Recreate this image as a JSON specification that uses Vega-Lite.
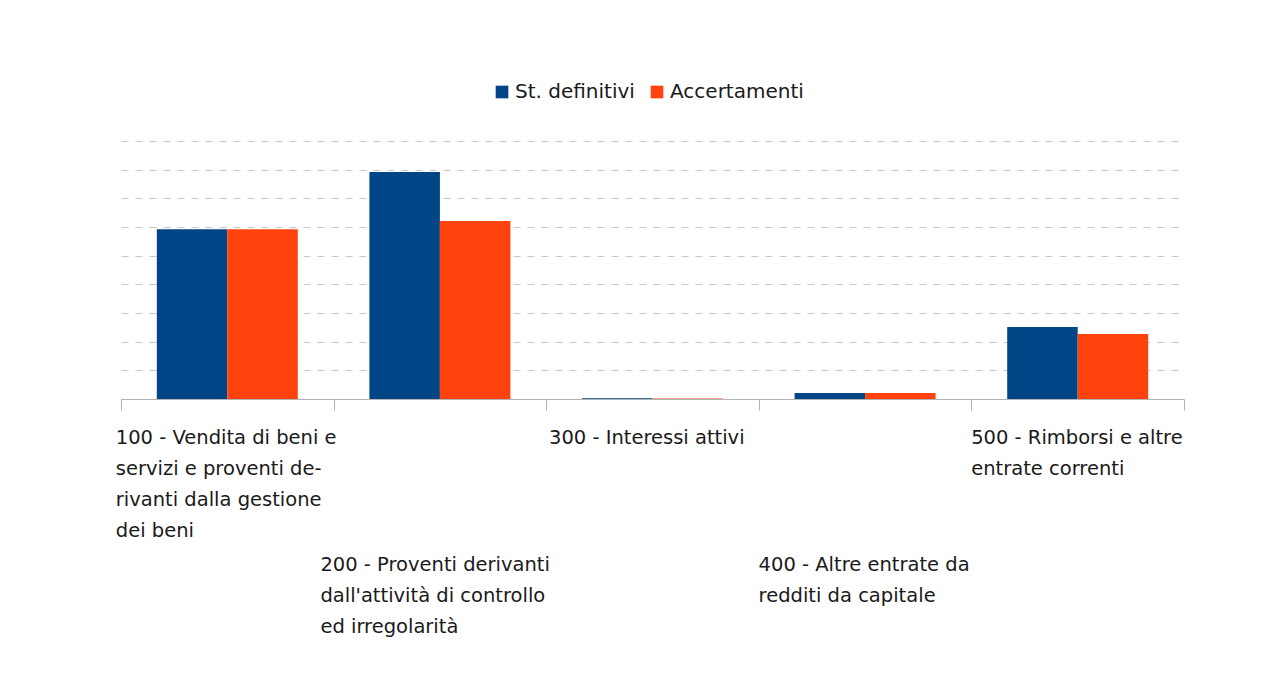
{
  "$schema": "https://vega.github.io/schema/vega-lite/v6.json",
  "autosize": {"type": "none"},
  "width": 1063,
  "height": 258,
  "padding": {"left": 121, "top": 141, "right": 101, "bottom": 284},
  "background": "white",
  "data": {"values": [
    {"categoria": "100 - Vendita di beni e\nservizi e proventi de-\nrivanti dalla gestione\ndei beni", "serie": "St. definitivi", "valore": 5.92},
    {"categoria": "100 - Vendita di beni e\nservizi e proventi de-\nrivanti dalla gestione\ndei beni", "serie": "Accertamenti", "valore": 5.92},
    {"categoria": "200 - Proventi derivanti\ndall'attività di controllo\ned irregolarità", "serie": "St. definitivi", "valore": 7.92},
    {"categoria": "200 - Proventi derivanti\ndall'attività di controllo\ned irregolarità", "serie": "Accertamenti", "valore": 6.21},
    {"categoria": "300 - Interessi attivi", "serie": "St. definitivi", "valore": 0.03},
    {"categoria": "300 - Interessi attivi", "serie": "Accertamenti", "valore": 0.02},
    {"categoria": "400 - Altre entrate da\nredditi da capitale", "serie": "St. definitivi", "valore": 0.21},
    {"categoria": "400 - Altre entrate da\nredditi da capitale", "serie": "Accertamenti", "valore": 0.21},
    {"categoria": "500 - Rimborsi e altre\nentrate correnti", "serie": "St. definitivi", "valore": 2.51},
    {"categoria": "500 - Rimborsi e altre\nentrate correnti", "serie": "Accertamenti", "valore": 2.27}
  ]},
  "mark": {"type": "bar"},
  "encoding": {
    "x": {
      "field": "categoria", "type": "nominal", "sort": null,
      "scale": {"paddingInner": 0, "paddingOuter": 0},
      "axis": {
        "title": null,
        "labelAngle": 0,
        "tickBand": "extent",
        "labelAlign": "left",
        "labelBaseline": "top",
        "labelOffset": {
          "condition": [
            {"test": "substring(datum.value,0,3) == '100'", "value": -112},
            {"test": "substring(datum.value,0,3) == '200'", "value": -120},
            {"test": "substring(datum.value,0,3) == '300'", "value": -104}
          ],
          "value": -107
        },
        "labelPadding": {
          "condition": {"test": "toNumber(substring(datum.value,0,1)) % 2 == 0", "value": 145},
          "value": 18
        },
        "labelLineHeight": 31,
        "labelFont": "DejaVu Sans",
        "labelFontSize": 19.5,
        "labelColor": "#1a1a1a",
        "labelLimit": 0,
        "labelExpr": "split(datum.label, '\\n')",
        "domainColor": "#b3b3b3",
        "tickColor": "#b3b3b3",
        "tickSize": 11,
        "grid": false
      }
    },
    "xOffset": {
      "field": "serie", "type": "nominal",
      "sort": ["St. definitivi", "Accertamenti"],
      "scale": {"paddingInner": 0, "paddingOuter": 0.508}
    },
    "y": {
      "field": "valore", "type": "quantitative",
      "scale": {"domain": [0, 9], "nice": false},
      "axis": {
        "title": null,
        "labels": false,
        "ticks": false,
        "domain": false,
        "tickCount": 9,
        "grid": true,
        "gridColor": "#c8c8c8",
        "gridDash": [7, 7]
      }
    },
    "color": {
      "field": "serie", "type": "nominal",
      "sort": ["St. definitivi", "Accertamenti"],
      "scale": {"domain": ["St. definitivi", "Accertamenti"], "range": ["#004586", "#ff420e"]},
      "legend": {
        "title": null,
        "orient": "none",
        "direction": "horizontal",
        "legendX": 371,
        "legendY": -59,
        "symbolType": "square",
        "symbolSize": 160,
        "symbolStrokeWidth": 0,
        "labelFont": "DejaVu Sans",
        "labelFontSize": 20,
        "labelColor": "#1a1a1a",
        "columnPadding": 12,
        "labelOffset": 3
      }
    }
  },
  "config": {"view": {"stroke": null}}
}
